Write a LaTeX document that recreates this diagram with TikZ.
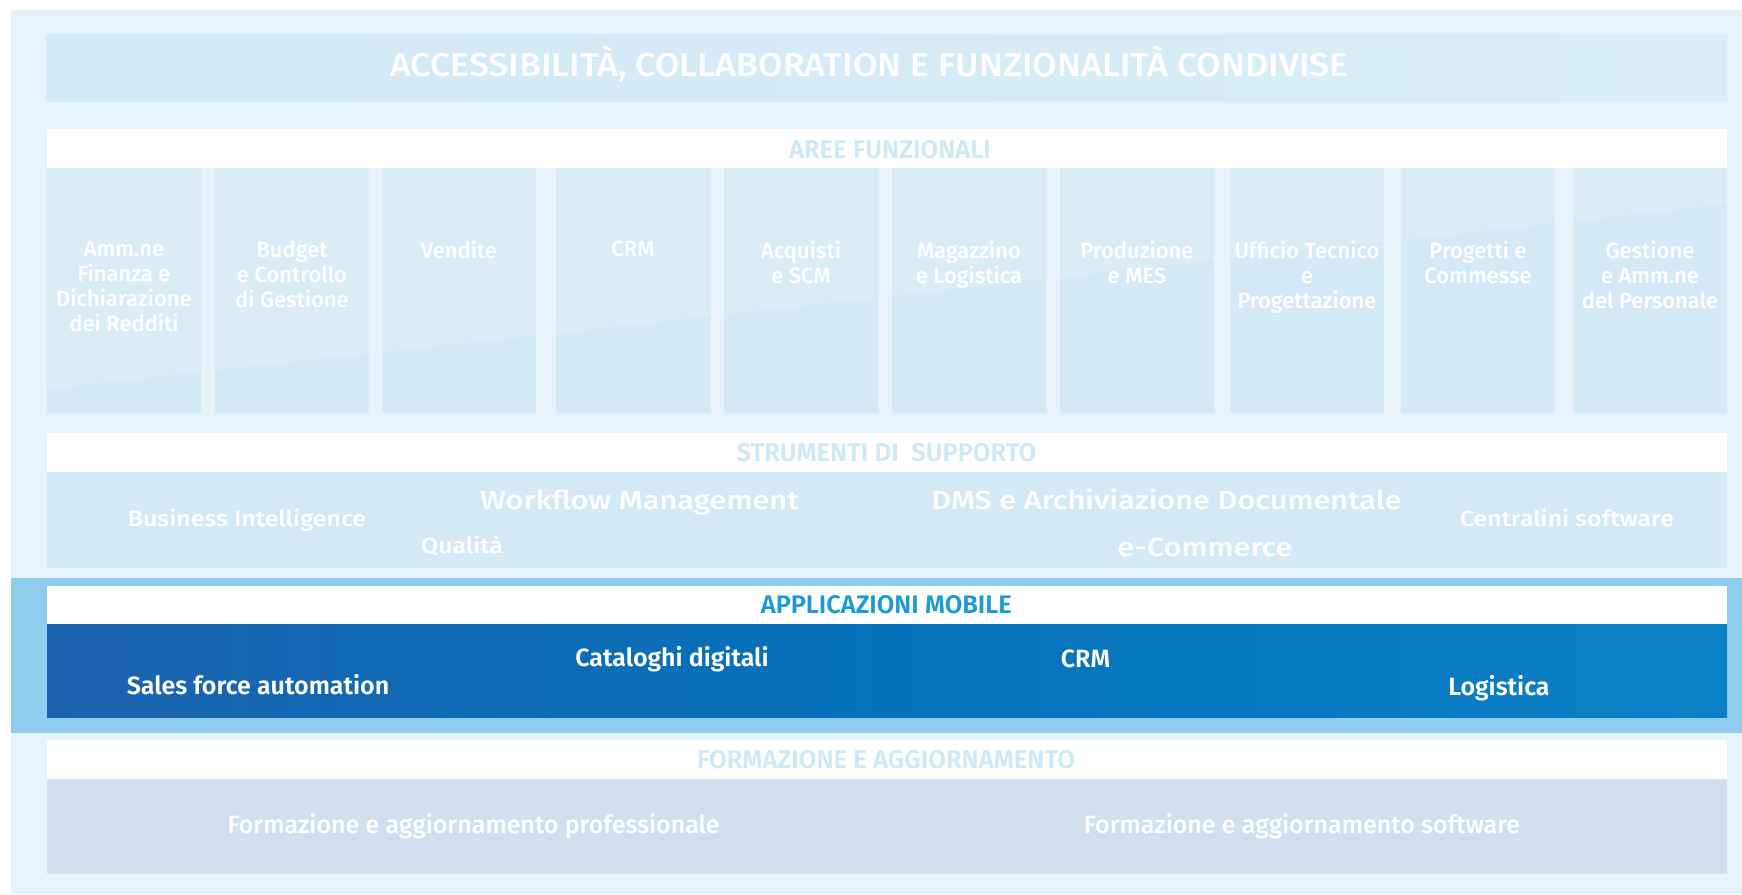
\documentclass[tikz,border=0pt]{standalone}
\usepackage{fontspec}
\setmainfont{Fira Sans}[BoldFont={Fira Sans SemiBold}]
\newfontfamily\medfont{Fira Sans Medium}
\newfontfamily\medwide{Fira Sans Medium}[FakeStretch=1.08]
\newfontfamily\medwider{Fira Sans Medium}[FakeStretch=1.13]
\newfontfamily\medwidest{Fira Sans Medium}[FakeStretch=1.18]
\definecolor{bgl}{HTML}{E6F3FB}
\definecolor{bnL}{HTML}{D1E9F6}
\definecolor{bnR}{HTML}{D9EEF8}
\definecolor{boxc}{HTML}{D3EAF6}
\definecolor{hdrtxt}{HTML}{CDE8F6}
\definecolor{band}{HTML}{8FCDEF}
\definecolor{mobtxt}{HTML}{1A9AD6}
\definecolor{mobL}{HTML}{1B62AE}
\definecolor{mobM}{HTML}{0472BB}
\definecolor{mobR}{HTML}{0C80C6}
\definecolor{formc}{HTML}{D1DFEE}
\begin{document}
\begin{tikzpicture}[x=1pt,y=-1pt,
  every node/.style={inner sep=0pt,outer sep=0pt},
  titletxt/.style={text=white,font=\medwide\fontsize{33}{36}\selectfont,anchor=base},
  hdrtxt/.style={text=hdrtxt,font=\bfseries\fontsize{25.6}{28}\selectfont,anchor=base},
  mobhdr/.style={text=mobtxt,font=\bfseries\fontsize{25.4}{28}\selectfont,anchor=base},
  coltxt/.style={text=white,font=\medfont\fontsize{22}{25}\selectfont,align=center,anchor=north},
  tooltxt/.style={text=white,font=\medwider\fontsize{22}{25}\selectfont,anchor=base},
  toolbig/.style={text=white,font=\medwidest\fontsize{26}{29}\selectfont,anchor=base},
  mobtxtw/.style={text=white,font=\bfseries\fontsize{25}{28}\selectfont,anchor=base},
  formtxt/.style={text=white,font=\medfont\fontsize{25}{28}\selectfont,anchor=base}]
\useasboundingbox (0,0) rectangle (1742,894);
\fill[white] (0,0) rectangle (1742,894);
\fill[bgl] (11,10) rectangle (1742,894);
% top banner
\shade[left color=bnL,right color=bnR] (46,34) rectangle (1727,101);
\node[titletxt] (title) at (869.5,76.7) {ACCESSIBILITÀ, COLLABORATION E FUNZIONALITÀ CONDIVISE};
% aree funzionali
\fill[white] (47,129) rectangle (1727,168);
\node[hdrtxt] (areeh) at (890,158.3) {AREE FUNZIONALI};
\fill[boxc] (47,168) rectangle (201,413)
            (215,168) rectangle (368.5,413)
            (382,168) rectangle (536,413)
            (556,168) rectangle (710.5,413)
            (724,168) rectangle (878,413)
            (892,168) rectangle (1046,413)
            (1060,168) rectangle (1214,413)
            (1230,168) rectangle (1383.5,413)
            (1401,168) rectangle (1555,413)
            (1573,168) rectangle (1727,413);
\begin{scope}
\clip (47,168) rectangle (201,413)
      (215,168) rectangle (368.5,413)
      (382,168) rectangle (536,413)
      (556,168) rectangle (710.5,413)
      (724,168) rectangle (878,413)
      (892,168) rectangle (1046,413)
      (1060,168) rectangle (1214,413)
      (1230,168) rectangle (1383.5,413)
      (1401,168) rectangle (1555,413)
      (1573,168) rectangle (1727,413);
\fill[white,opacity=0.17] (47,168) -- (1727,168) -- (1727,204) -- (47,389) -- cycle;
\end{scope}
\node[coltxt] (c1) at (124,241) {Amm.ne\\Finanza e\\Dichiarazione\\dei Redditi};
\node[coltxt] (c2) at (292,241) {Budget\\e Controllo\\di Gestione};
\node[coltxt] (c3) at (459,241) {Vendite};
\node[coltxt] (c4) at (633,241) {CRM};
\node[coltxt] (c5) at (801,241) {Acquisti\\e SCM};
\node[coltxt] (c6) at (969,241) {Magazzino\\e Logistica};
\node[coltxt] (c7) at (1137,241) {Produzione\\e MES};
\node[coltxt] (c8) at (1307,241) {Ufficio Tecnico\\e\\Progettazione};
\node[coltxt] (c9) at (1478,241) {Progetti e\\Commesse};
\node[coltxt] (c10) at (1650,241) {Gestione\\e Amm.ne\\del Personale};
% strumenti
\fill[white] (47,433) rectangle (1727,472);
\node[hdrtxt] (strh) at (886.5,461.7) {STRUMENTI DI~ SUPPORTO};
\fill[boxc] (47,472) rectangle (1727,568);
\node[tooltxt] (bi) at (247,526.7) {Business Intelligence};
\node[toolbig] (wf) at (639.5,509.3) {Workflow Management};
\node[tooltxt] (qual) at (462,553.3) {Qualità};
\node[toolbig] (dms) at (1166.5,509.3) {DMS e Archiviazione Documentale};
\node[tooltxt] (cent) at (1567,526.7) {Centralini software};
\node[toolbig] (ecom) at (1205,556.7) {e-Commerce};
% mobile
\fill[band] (11,577.7) rectangle (1742,732.7);
\fill[white] (47,586) rectangle (1727,624.5);
\node[mobhdr] (mobh) at (886.3,613.3) {APPLICAZIONI MOBILE};
\shade[left color=mobL,right color=mobR,middle color=mobM] (47,624.5) rectangle (1727,717.7);
\node[mobtxtw] (sfa) at (258,694.3) {Sales force automation};
\node[mobtxtw] (cat) at (672,666.7) {Cataloghi digitali};
\node[mobtxtw] (crm) at (1085.5,667.3) {CRM};
\node[mobtxtw] (log) at (1499,695) {Logistica};
% formazione
\fill[white] (47,740) rectangle (1727,779);
\node[hdrtxt] (formh) at (886,768.3) {FORMAZIONE E AGGIORNAMENTO};
\fill[formc] (47,779) rectangle (1727,874);
\node[formtxt] (fp) at (473.6,833.3) {Formazione e aggiornamento professionale};
\node[formtxt] (fs) at (1302,833.3) {Formazione e aggiornamento software};
\end{tikzpicture}
\end{document}
